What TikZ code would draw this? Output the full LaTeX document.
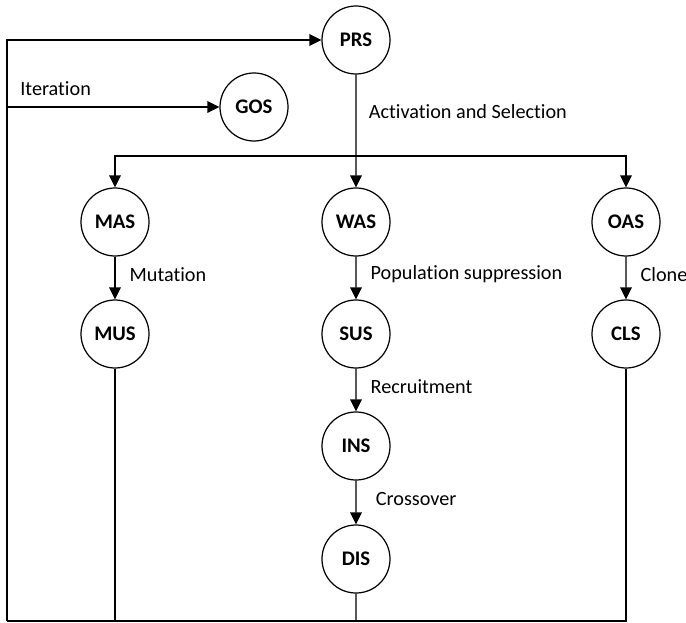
\documentclass[tikz,border=0pt]{standalone}
\usepackage{fontspec}
\setmainfont{Carlito}[Ligatures={NoCommon,NoContextual}]
\usetikzlibrary{arrows.meta}

\begin{document}
\begin{tikzpicture}[scale=0.2,
		state/.style={draw=black, circle, line width=0.7pt, minimum size=38.7pt, inner sep=0pt, font=\fontsize{11.8}{13}\selectfont\bfseries},
		flow/.style={line width=0.7pt, -{Triangle[length=6.8pt,width=6.6pt]}},
		link/.style={line width=0.7pt},
		lbl/.style={right, inner sep=0pt, font=\fontsize{11.5}{13}\selectfont}]
		\useasboundingbox (0,0) rectangle (68.6,-62.3);
		% states
		\node [state] (PRS) at (35.6,-4.0) {PRS};
		\node [state] (GOS) at (25.4,-10.7) {GOS};
		\node [state] (MAS) at (11.5,-22.2) {MAS};
		\node [state] (WAS) at (35.6,-22.2) {WAS};
		\node [state] (OAS) at (62.6,-22.2) {OAS};
		\node [state] (MUS) at (11.5,-33.4) {MUS};
		\node [state] (SUS) at (35.6,-33.4) {SUS};
		\node [state] (CLS) at (62.6,-33.4) {CLS};
		\node [state] (INS) at (35.6,-44.6) {INS};
		\node [state] (DIS) at (35.6,-55.9) {DIS};
		\coordinate (split) at (35.6,-15.6);
		\coordinate (loop) at (0.7,-62.1);
		% activation and selection
		\draw [flow] (PRS) -- node [lbl, pos=0.33, xshift=7pt] {Activation and Selection} (WAS);
		\draw [flow] (split) -| (MAS);
		\draw [flow] (split) -| (OAS);
		% stages
		\draw [flow] (MAS) -- node [lbl, xshift=8pt, yshift=2pt] {Mutation} (MUS);
		\draw [flow] (WAS) -- node [lbl, xshift=8pt, yshift=2pt] {Population suppression} (SUS);
		\draw [flow] (OAS) -- node [lbl, xshift=8pt, yshift=2pt] {Clone} (CLS);
		\draw [flow] (SUS) -- node [lbl, xshift=8pt, yshift=2pt] {Recruitment} (INS);
		\draw [flow] (INS) -- node [lbl, xshift=11pt, yshift=2pt] {Crossover} (DIS);
		% iteration
		\draw [link] (MUS) -- (MUS |- loop);
		\draw [link] (DIS) -- (DIS |- loop);
		\draw [link] (CLS) |- (loop);
		\draw [flow] (loop) |- (PRS);
		\draw [flow] (loop |- GOS) -- (GOS);
		\node [lbl] (iter) at (2.0,-8.9) {Iteration};
\end{tikzpicture}
\end{document}
